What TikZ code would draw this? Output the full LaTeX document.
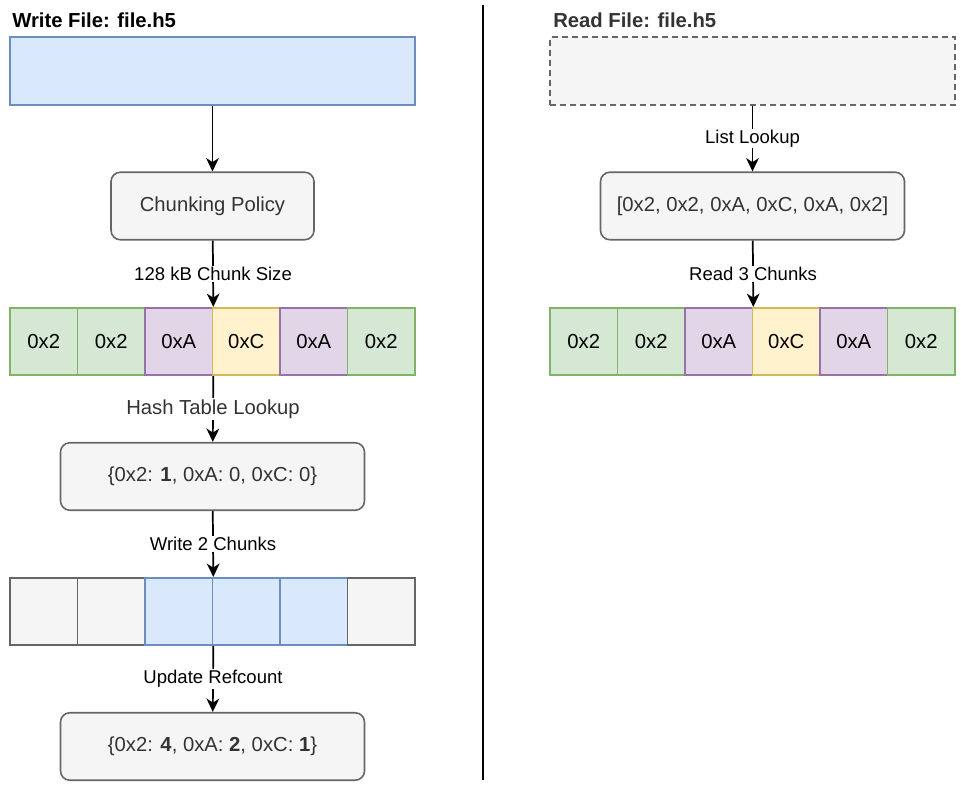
\documentclass[tikz,border=0pt]{standalone}
\usepackage{fontspec}
\setmainfont{Liberation Sans}
\usetikzlibrary{positioning,arrows.meta}

\definecolor{greenfill}{HTML}{D5E8D4}
\definecolor{greenline}{HTML}{82B366}
\definecolor{purplefill}{HTML}{E1D5E7}
\definecolor{purpleline}{HTML}{9673A6}
\definecolor{yellowfill}{HTML}{FFF2CC}
\definecolor{yellowline}{HTML}{D6B656}
\definecolor{bluefill}{HTML}{DAE8FC}
\definecolor{blueline}{HTML}{6C8EBF}
\definecolor{grayfill}{HTML}{F5F5F5}
\definecolor{grayline}{HTML}{666666}
\definecolor{graytext}{HTML}{333333}

\newcommand{\mainsize}{\fontsize{15.2pt}{18pt}\selectfont}
\newcommand{\labelsize}{\fontsize{13.9pt}{16pt}\selectfont}

\begin{document}
\begin{tikzpicture}[x=0.75pt, y=-0.75pt, on grid, node distance=101.25pt and 50.625pt,
    >={Stealth[length=10pt,width=9.5pt,inset=3pt]},
    box/.style={draw, line width=1.2pt, inner sep=0pt, minimum height=50.625pt},
    chunk/.style={box, minimum width=50.625pt},
    green chunk/.style={chunk, fill=greenfill, draw=greenline},
    purple chunk/.style={chunk, fill=purplefill, draw=purpleline},
    yellow chunk/.style={chunk, fill=yellowfill, draw=yellowline},
    blue chunk/.style={chunk, fill=bluefill, draw=blueline},
    gray chunk/.style={chunk, fill=grayfill, draw=grayline},
    round box/.style={box, rounded corners=7pt, fill=grayfill, draw=grayline, text=graytext},
    title/.style={anchor=west, inner sep=0pt, font=\mainsize\bfseries},
    step label/.style={fill=white, inner sep=1pt, font=\labelsize}]
  \tikzstyle{every node}=[font=\mainsize]
  \useasboundingbox (0,0) rectangle (961,787);

  % write side
  \node[title] (wt) at (12,20) {Write File: file.h5};
  \node[box, fill=bluefill, draw=blueline, minimum width=303.75pt] (1) at (212.5,71) {};
  \node[round box, minimum width=152.25pt] (2) [below=of 1] {Chunking Policy};
  \node[green chunk] (a1) at (43.75,341.5) {0x2};
  \node[green chunk] (a2) [right=of a1] {0x2};
  \node[purple chunk] (a3) [right=of a2] {0xA};
  \node[yellow chunk] (a4) [right=of a3] {0xC};
  \node[purple chunk] (a5) [right=of a4] {0xA};
  \node[green chunk] (a6) [right=of a5] {0x2};
  \node[round box, minimum width=228pt] (3) at (212.5,476.5) {\{0x2: \textbf{1}, 0xA: 0, 0xC: 0\}};
  \node[gray chunk] (b1) at (43.75,611.5) {};
  \node[gray chunk] (b2) [right=of b1] {};
  \node[blue chunk] (b3) [right=of b2] {};
  \node[blue chunk] (b4) [right=of b3] {};
  \node[blue chunk] (b5) [right=of b4] {};
  \node[gray chunk] (b6) [right=of b5] {};
  \node[round box, minimum width=228pt] (4) [below=of 3, yshift=-101.25pt] {\{0x2: \textbf{4}, 0xA: \textbf{2}, 0xC: \textbf{1}\}};

  % divider
  \coordinate (top) at (483,5);
  \coordinate (bottom) at (483,780);
  \draw[line width=1.5pt] (top) -- (bottom);

  % read side
  \node[title, text=graytext] (rt) at (553,20) {Read File: file.h5};
  \node[box, fill=grayfill, draw=grayline, dash pattern=on 4.5pt off 3pt, minimum width=303.75pt] (5) at (752.5,71) {};
  \node[round box, minimum width=228pt] (6) [below=of 5] {[0x2, 0x2, 0xA, 0xC, 0xA, 0x2]};
  \node[green chunk] (c1) at (583.75,341.5) {0x2};
  \node[green chunk] (c2) [right=of c1] {0x2};
  \node[purple chunk] (c3) [right=of c2] {0xA};
  \node[yellow chunk] (c4) [right=of c3] {0xC};
  \node[purple chunk] (c5) [right=of c4] {0xA};
  \node[green chunk] (c6) [right=of c5] {0x2};

  \path[->, line width=1.3pt]
    (1) edge (2)
    (2) edge node[step label] {128 kB Chunk Size} (a3.north east)
    (a3.south east) edge node[step label, font=\mainsize, text=graytext] {Hash Table Lookup} (3)
    (3) edge node[step label] {Write 2 Chunks} (b3.north east)
    (b3.south east) edge node[step label] {Update Refcount} (4)
    (5) edge node[step label] {List Lookup} (6)
    (6) edge node[step label] {Read 3 Chunks} (c3.north east);
\end{tikzpicture}
\end{document}
